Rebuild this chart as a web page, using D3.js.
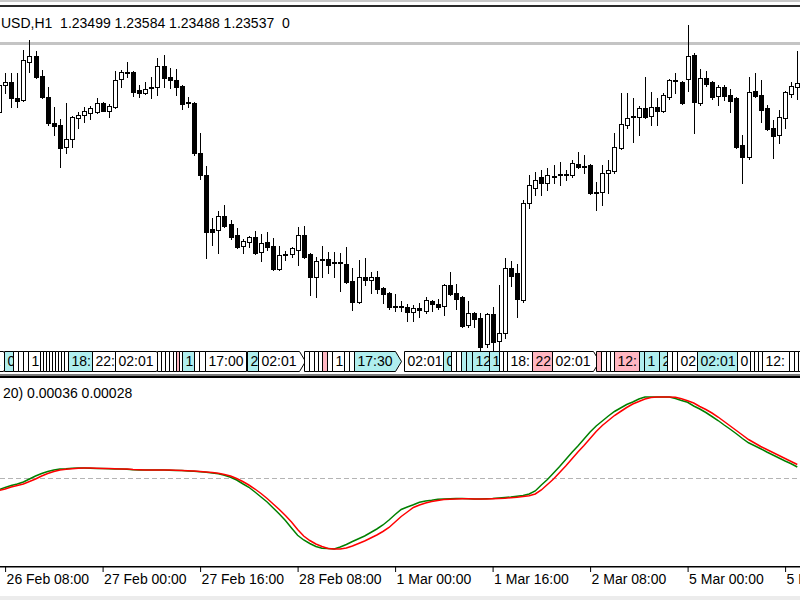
<!DOCTYPE html>
<html>
<head>
<meta charset="utf-8">
<script src="https://cdn.jsdelivr.net/npm/d3@7"></script>
<style>
  body { margin: 0; background: #fff; overflow: hidden; }
  svg { display: block; font-family: "Liberation Sans", Arial, sans-serif; }
</style>
</head>
<body>
<div id="chart"></div>
<script>
// EURUSD H1 candles, one entry per bar (left to right)
const opens = [
  1.23440,1.23575,1.23590,1.23510,1.23500,1.23690,1.23720,1.23620,1.23515,1.23385,
  1.23375,1.23265,1.23305,1.23410,1.23425,1.23435,1.23440,1.23485,1.23445,1.23465,
  1.23605,1.23640,1.23640,1.23550,1.23535,1.23565,1.23565,1.23670,1.23615,1.23600,
  1.23570,1.23490,1.23485,1.23235,1.23125,1.22855,1.22850,1.22920,1.22880,1.22825,
  1.22770,1.22790,1.22815,1.22740,1.22790,1.22770,1.22655,1.22730,1.22730,1.22750,
  1.22825,1.22730,1.22615,1.22705,1.22705,1.22690,1.22685,1.22680,1.22595,1.22490,
  1.22615,1.22600,1.22615,1.22560,1.22535,1.22470,1.22465,1.22465,1.22440,1.22460,
  1.22445,1.22495,1.22480,1.22470,1.22575,1.22535,1.22515,1.22375,1.22435,1.22410,
  1.22280,1.22430,1.22295,1.22335,1.22660,1.22635,1.22500,1.22985,1.23060,1.23115,
  1.23085,1.23120,1.23130,1.23125,1.23125,1.23180,1.23170,1.23175,1.23040,1.23040,
  1.23135,1.23145,1.23260,1.23375,1.23420,1.23415,1.23460,1.23420,1.23465,1.23445,
  1.23515,1.23600,1.23590,1.23605,1.23725,1.23485,1.23610,1.23590,1.23520,1.23565,
  1.23525,1.23510,1.23275,1.23215,1.23545,1.23525,1.23460,1.23360,1.23325,1.23410,
  1.23530,1.23565
];
const highs = [
  1.23600,1.23635,1.23635,1.23635,1.23750,1.23800,1.23745,1.23650,1.23565,1.23465,
  1.23405,1.23485,1.23420,1.23440,1.23465,1.23470,1.23510,1.23490,1.23480,1.23645,
  1.23650,1.23690,1.23645,1.23575,1.23590,1.23615,1.23710,1.23725,1.23660,1.23655,
  1.23575,1.23515,1.23490,1.23335,1.23170,1.22910,1.22945,1.22975,1.22900,1.22860,
  1.22805,1.22820,1.22845,1.22830,1.22840,1.22810,1.22770,1.22745,1.22765,1.22865,
  1.22870,1.22735,1.22715,1.22770,1.22740,1.22740,1.22735,1.22765,1.22660,1.22700,
  1.22710,1.22640,1.22645,1.22565,1.22540,1.22530,1.22495,1.22480,1.22475,1.22485,
  1.22515,1.22500,1.22505,1.22580,1.22640,1.22580,1.22520,1.22495,1.22440,1.22435,
  1.22435,1.22465,1.22575,1.22710,1.22695,1.22680,1.23000,1.23125,1.23140,1.23150,
  1.23160,1.23175,1.23190,1.23150,1.23200,1.23240,1.23225,1.23180,1.23090,1.23175,
  1.23200,1.23335,1.23535,1.23535,1.23510,1.23470,1.23615,1.23540,1.23510,1.23535,
  1.23605,1.23635,1.23595,1.23875,1.23735,1.23655,1.23645,1.23595,1.23575,1.23575,
  1.23555,1.23515,1.23325,1.23615,1.23635,1.23600,1.23475,1.23400,1.23450,1.23545,
  1.23590,1.23745
];
const lows = [
  1.23425,1.23535,1.23465,1.23465,1.23495,1.23640,1.23610,1.23510,1.23375,1.23325,
  1.23165,1.23235,1.23265,1.23360,1.23390,1.23405,1.23435,1.23445,1.23415,1.23460,
  1.23565,1.23615,1.23520,1.23515,1.23530,1.23510,1.23525,1.23565,1.23560,1.23525,
  1.23455,1.23465,1.23225,1.23105,1.22710,1.22775,1.22735,1.22865,1.22805,1.22760,
  1.22735,1.22765,1.22730,1.22695,1.22750,1.22650,1.22650,1.22700,1.22715,1.22675,
  1.22710,1.22525,1.22515,1.22615,1.22635,1.22615,1.22545,1.22585,1.22450,1.22485,
  1.22575,1.22535,1.22535,1.22485,1.22455,1.22445,1.22445,1.22395,1.22395,1.22415,
  1.22435,1.22445,1.22455,1.22425,1.22525,1.22455,1.22365,1.22365,1.22365,1.22250,
  1.22265,1.22250,1.22250,1.22310,1.22570,1.22415,1.22490,1.22960,1.23025,1.23025,
  1.23050,1.23085,1.23075,1.23100,1.23115,1.23160,1.23135,1.23030,1.22950,1.22975,
  1.23035,1.23135,1.23255,1.23360,1.23290,1.23325,1.23410,1.23375,1.23375,1.23440,
  1.23505,1.23535,1.23480,1.23545,1.23335,1.23475,1.23570,1.23505,1.23475,1.23500,
  1.23440,1.23260,1.23085,1.23205,1.23515,1.23390,1.23350,1.23210,1.23285,1.23360,
  1.23515,1.23505
];
const closes = [
  1.23575,1.23590,1.23510,1.23495,1.23700,1.23720,1.23615,1.23515,1.23385,1.23370,
  1.23260,1.23305,1.23415,1.23425,1.23445,1.23460,1.23485,1.23445,1.23470,1.23600,
  1.23640,1.23635,1.23540,1.23535,1.23555,1.23560,1.23670,1.23610,1.23600,1.23565,
  1.23480,1.23485,1.23235,1.23125,1.22840,1.22840,1.22920,1.22870,1.22815,1.22765,
  1.22795,1.22815,1.22735,1.22785,1.22765,1.22655,1.22725,1.22725,1.22760,1.22825,
  1.22715,1.22615,1.22695,1.22700,1.22675,1.22685,1.22690,1.22590,1.22490,1.22615,
  1.22600,1.22615,1.22555,1.22530,1.22465,1.22465,1.22470,1.22440,1.22460,1.22450,
  1.22500,1.22480,1.22465,1.22575,1.22530,1.22505,1.22370,1.22435,1.22405,1.22265,
  1.22430,1.22290,1.22335,1.22660,1.22620,1.22505,1.22985,1.23075,1.23100,1.23085,
  1.23125,1.23115,1.23125,1.23130,1.23185,1.23165,1.23165,1.23035,1.23035,1.23135,
  1.23150,1.23265,1.23380,1.23410,1.23415,1.23460,1.23415,1.23465,1.23445,1.23525,
  1.23600,1.23595,1.23485,1.23720,1.23490,1.23610,1.23580,1.23515,1.23565,1.23520,
  1.23495,1.23265,1.23215,1.23540,1.23520,1.23450,1.23355,1.23320,1.23415,1.23540,
  1.23570,1.23585
];

// oscillator in the lower window: main (green) and signal (red)
const mainLine = [
  -0.00046,-0.00038,-0.00030,-0.00024,-0.00016,-0.00004,0.00008,0.00018,0.00026,0.00032,
  0.00036,0.00037,0.00039,0.00040,0.00040,0.00039,0.00038,0.00038,0.00037,0.00036,
  0.00036,0.00035,0.00033,0.00032,0.00032,0.00032,0.00032,0.00032,0.00031,0.00030,
  0.00030,0.00028,0.00027,0.00025,0.00023,0.00020,0.00017,0.00011,0.00003,-0.00008,
  -0.00023,-0.00037,-0.00056,-0.00076,-0.00096,-0.00120,-0.00144,-0.00170,-0.00200,-0.00229,
  -0.00248,-0.00262,-0.00274,-0.00281,-0.00282,-0.00284,-0.00276,-0.00266,-0.00254,-0.00243,
  -0.00232,-0.00218,-0.00204,-0.00188,-0.00168,-0.00146,-0.00126,-0.00116,-0.00107,-0.00097,
  -0.00092,-0.00089,-0.00085,-0.00084,-0.00083,-0.00082,-0.00082,-0.00083,-0.00084,-0.00084,
  -0.00083,-0.00082,-0.00080,-0.00078,-0.00076,-0.00073,-0.00070,-0.00064,-0.00052,-0.00028,
  -0.00006,0.00020,0.00046,0.00074,0.00102,0.00128,0.00156,0.00184,0.00208,0.00228,
  0.00248,0.00266,0.00280,0.00294,0.00304,0.00316,0.00324,0.00324,0.00324,0.00324,
  0.00324,0.00318,0.00310,0.00303,0.00288,0.00276,0.00262,0.00246,0.00230,0.00212,
  0.00195,0.00177,0.00158,0.00141,0.00129,0.00117,0.00104,0.00092,0.00080,0.00068,
  0.00057,0.00044
];
const signalLine = [
  -0.00050,-0.00044,-0.00036,-0.00030,-0.00024,-0.00014,-0.00004,0.00008,0.00018,0.00026,
  0.00032,0.00035,0.00037,0.00039,0.00040,0.00040,0.00039,0.00038,0.00038,0.00037,
  0.00036,0.00036,0.00034,0.00033,0.00032,0.00032,0.00032,0.00032,0.00032,0.00031,
  0.00030,0.00029,0.00028,0.00026,0.00024,0.00022,0.00019,0.00014,0.00008,-0.00002,
  -0.00014,-0.00028,-0.00044,-0.00062,-0.00082,-0.00104,-0.00126,-0.00150,-0.00176,-0.00206,
  -0.00232,-0.00250,-0.00264,-0.00274,-0.00282,-0.00284,-0.00284,-0.00280,-0.00272,-0.00262,
  -0.00252,-0.00240,-0.00228,-0.00214,-0.00198,-0.00176,-0.00154,-0.00136,-0.00118,-0.00108,
  -0.00100,-0.00094,-0.00090,-0.00086,-0.00085,-0.00084,-0.00083,-0.00083,-0.00084,-0.00084,
  -0.00084,-0.00083,-0.00082,-0.00081,-0.00079,-0.00077,-0.00074,-0.00071,-0.00064,-0.00048,
  -0.00026,-0.00004,0.00022,0.00048,0.00076,0.00104,0.00130,0.00158,0.00186,0.00210,
  0.00230,0.00250,0.00266,0.00282,0.00296,0.00306,0.00316,0.00322,0.00324,0.00324,
  0.00324,0.00323,0.00317,0.00309,0.00300,0.00286,0.00274,0.00260,0.00244,0.00226,
  0.00208,0.00190,0.00172,0.00154,0.00140,0.00126,0.00114,0.00102,0.00090,0.00078,
  0.00066,0.00054
];

// time axis
const tickBars = [1, 17, 33, 49, 65, 81, 97, 113, 129];
const tickLabels = ["26 Feb 08:00", "27 Feb 00:00", "27 Feb 16:00", "28 Feb 08:00",
  "1 Mar 00:00", "1 Mar 16:00", "2 Mar 08:00", "5 Mar 00:00", "5 Mar 16:00"];

// horizontal level and window captions
const levelPrice = 1.23783;
const mainCaption = "USD,H1  1.23499 1.23584 1.23488 1.23537  0";
const subCaption = "20) 0.00036 0.00028";

// session time labels: [bar, text, kind]  (kind: w plain, t turquoise, p pink)
const sessionLabels = [
  [-6.1,"02:01","w"],[0.8,"02:01","t"],
  [2.3,"12:00","w"],[3.1,"12:00","w"],[3.9,"12:00","w"],[4.8,"12:00","w"],
  [6.7,"12:00","w"],[7.2,"12:00","w"],[7.7,"12:00","w"],[8.2,"12:00","w"],[8.7,"12:00","w"],
  [9.2,"12:00","w"],[9.7,"12:00","w"],[10.2,"12:00","w"],[10.7,"12:00","w"],
  [11.3,"18:00","t"],[15.3,"22:00","w"],[19.0,"02:01","w"],
  [25.9,"12:00","w"],[26.6,"12:00","w"],[27.2,"12:00","w"],[27.9,"12:00","w"],[28.6,"12:00","w"],
  [29.0,"12:00","p"],[29.5,"12:00","w"],[30.0,"12:00","t"],[32.0,"12:00","w"],[32.8,"12:00","w"],
  [33.8,"17:00","w"],[40.7,"22:00","t"],[42.5,"02:01","w"],
  [50.0,"12:00","w"],[50.9,"12:00","w"],[51.7,"12:00","w"],[52.3,"12:00","w"],[53.0,"12:00","p"],
  [53.8,"12:00","w"],[54.6,"12:00","w"],[56.6,"12:00","w"],[57.4,"12:00","w"],
  [58.3,"17:30","t"],[66.5,"02:01","w"],[72.9,"02:01","t"],
  [74.2,"12:00","w"],[75.0,"12:00","w"],[75.8,"12:00","t"],[76.6,"12:00","t"],[77.6,"12:00","t"],
  [80.4,"17:30","t"],[82.0,"12:00","w"],[82.7,"12:00","w"],[83.4,"18:00","w"],
  [87.5,"22:00","p"],[90.7,"02:01","w"],
  [98.0,"12:00","p"],[98.8,"12:00","w"],[99.6,"12:00","w"],[100.3,"12:00","w"],[100.9,"12:00","p"],
  [105.0,"17:30","t"],[105.8,"17:30","t"],[108.3,"22:00","t"],
  [109.6,"12:00","w"],[110.4,"12:00","w"],[111.3,"02:01","w"],[114.5,"02:01","t"],[121.1,"02:01","w"],
  [123.2,"12:00","w"],[123.9,"12:00","w"],[124.5,"12:00","w"],[125.2,"12:00","w"],
  [129.6,"12:00","w"],[130.5,"12:00","w"],[131.1,"12:00","w"]
];

const W = 800, H = 600;
const kindFill = { w: "#ffffff", t: "#afeeee", p: "#ffb6c1" };

const svg = d3.select("#chart").append("svg")
  .attr("width", W).attr("height", H);

svg.append("rect").attr("width", W).attr("height", H).attr("fill", "#fff");

// scales: ~6.1px per bar, price window and oscillator window
const x = d3.scaleLinear().domain([0, 16]).range([-1, 96.5]);
const yPrice = d3.scaleLinear().domain([1.2225, 1.2400]).range([350, 0]);
const yInd = d3.scaleLinear().domain([-0.003, 0.0034]).range([553, 393]);

// window frame on top
svg.append("rect").attr("x", 0).attr("y", 0).attr("width", W).attr("height", 2).attr("fill", "#c8c8c8");
svg.append("rect").attr("x", 0).attr("y", 5).attr("width", W).attr("height", 2).attr("fill", "#2a2a2a");

// horizontal level line
svg.append("line")
  .attr("x1", 0).attr("x2", W)
  .attr("y1", yPrice(levelPrice)).attr("y2", yPrice(levelPrice))
  .attr("stroke", "#c4c4c4").attr("stroke-width", 3);

// candles
const bars = d3.range(opens.length);
const candle = svg.append("g").selectAll("g")
  .data(bars).join("g");

candle.append("rect")
  .attr("x", i => Math.round(x(i)))
  .attr("width", 1)
  .attr("y", i => Math.round(yPrice(highs[i])))
  .attr("height", i => Math.max(1, Math.round(yPrice(lows[i])) - Math.round(yPrice(highs[i])) + 1))
  .attr("fill", "#000");

candle.each(function(i) {
  const g = d3.select(this);
  const cx = Math.round(x(i));
  const top = Math.round(yPrice(Math.max(opens[i], closes[i])));
  const bot = Math.round(yPrice(Math.min(opens[i], closes[i])));
  if (bot - top < 1) {
    g.append("rect").attr("x", cx - 2).attr("y", top).attr("width", 5).attr("height", 1).attr("fill", "#000");
  } else {
    g.append("rect")
      .attr("x", cx - 1.5).attr("y", top + 0.5)
      .attr("width", 4).attr("height", bot - top)
      .attr("fill", closes[i] >= opens[i] ? "#fff" : "#000")
      .attr("stroke", "#000").attr("stroke-width", 1);
  }
});

// caption of the price window
svg.append("text")
  .attr("x", 1).attr("y", 28)
  .attr("font-size", 14).attr("fill", "#000")
  .style("white-space", "pre")
  .text(mainCaption);

// session labels (each box drawn over the previous one, so only
// the part of the text before the next box stays visible)
const measure = svg.append("text").attr("font-size", 14).attr("visibility", "hidden");
const textWidth = t => { measure.text(t); return measure.node().getComputedTextLength(); };

const labTop = 351, labBot = 371;
const labels = svg.append("g");
const starts = sessionLabels.map(d => Math.round(x(d[0])) + 0.5);
sessionLabels.forEach(([bar, txt, kind], k) => {
  const x0 = starts[k];
  const x1 = x0 + Math.round(textWidth(txt)) + 6;
  const arrow = txt === "02:01" || txt === "17:30";
  const mid = (labTop + labBot) / 2;
  const p = arrow
    ? `M${x0},${labTop + 0.5}H${x1}L${x1 + 6},${mid + 0.5}L${x1},${labBot + 0.5}H${x0}Z`
    : `M${x0},${labTop + 0.5}H${x1}V${labBot + 0.5}H${x0}Z`;
  labels.append("path").attr("d", p)
    .attr("fill", kindFill[kind]).attr("stroke", "#000").attr("stroke-width", 1);

  // keep only the characters that show before the next box
  const next = k + 1 < starts.length ? starts[k + 1] : W + 50;
  const room = next - (x0 + 3) + 3;
  let shown = txt;
  while (shown.length && textWidth(shown) > room) shown = shown.slice(0, -1);
  if (shown.length) {
    labels.append("text")
      .attr("x", x0 + 3).attr("y", 366)
      .attr("font-size", 14).attr("fill", "#000")
      .text(shown);
  }
});
measure.remove();

// separator between windows
svg.append("rect").attr("x", 0).attr("y", 374).attr("width", W).attr("height", 2).attr("fill", "#7a7a7a");
svg.append("rect").attr("x", 0).attr("y", 376).attr("width", W).attr("height", 2).attr("fill", "#000");

// oscillator window
svg.append("text")
  .attr("x", 3).attr("y", 398)
  .attr("font-size", 14).attr("fill", "#000")
  .text(subCaption);

svg.append("line")
  .attr("x1", 0).attr("x2", W)
  .attr("y1", Math.round(yInd(0)) + 0.5).attr("y2", Math.round(yInd(0)) + 0.5)
  .attr("stroke", "#b4b4b4").attr("stroke-dasharray", "5,3");

const line = d3.line().x((d, i) => x(i)).y(d => yInd(d));

svg.append("path").datum(mainLine)
  .attr("d", line).attr("fill", "none")
  .attr("stroke", "#008000").attr("stroke-width", 1.5);

svg.append("path").datum(signalLine)
  .attr("d", line).attr("fill", "none")
  .attr("stroke", "#ff0000").attr("stroke-width", 1.5);

// time axis
svg.append("rect").attr("x", 0).attr("y", 566).attr("width", W).attr("height", 1.5).attr("fill", "#000");

const xAxis = svg.append("g")
  .attr("transform", "translate(0,567)")
  .call(d3.axisBottom(x).tickValues(tickBars).tickSize(5).tickSizeOuter(0)
    .tickFormat((d, i) => tickLabels[i]));

xAxis.select(".domain").remove();
xAxis.selectAll(".tick line").attr("stroke", "#000");
xAxis.selectAll("text")
  .attr("text-anchor", "start")
  .attr("x", 1).attr("y", 7)
  .attr("font-family", "'Liberation Sans', Arial, sans-serif")
  .attr("font-size", 14)
  .attr("fill", "#000");

svg.append("rect").attr("x", 0).attr("y", 596).attr("width", W).attr("height", 4).attr("fill", "#ececec");
</script>
</body>
</html>
